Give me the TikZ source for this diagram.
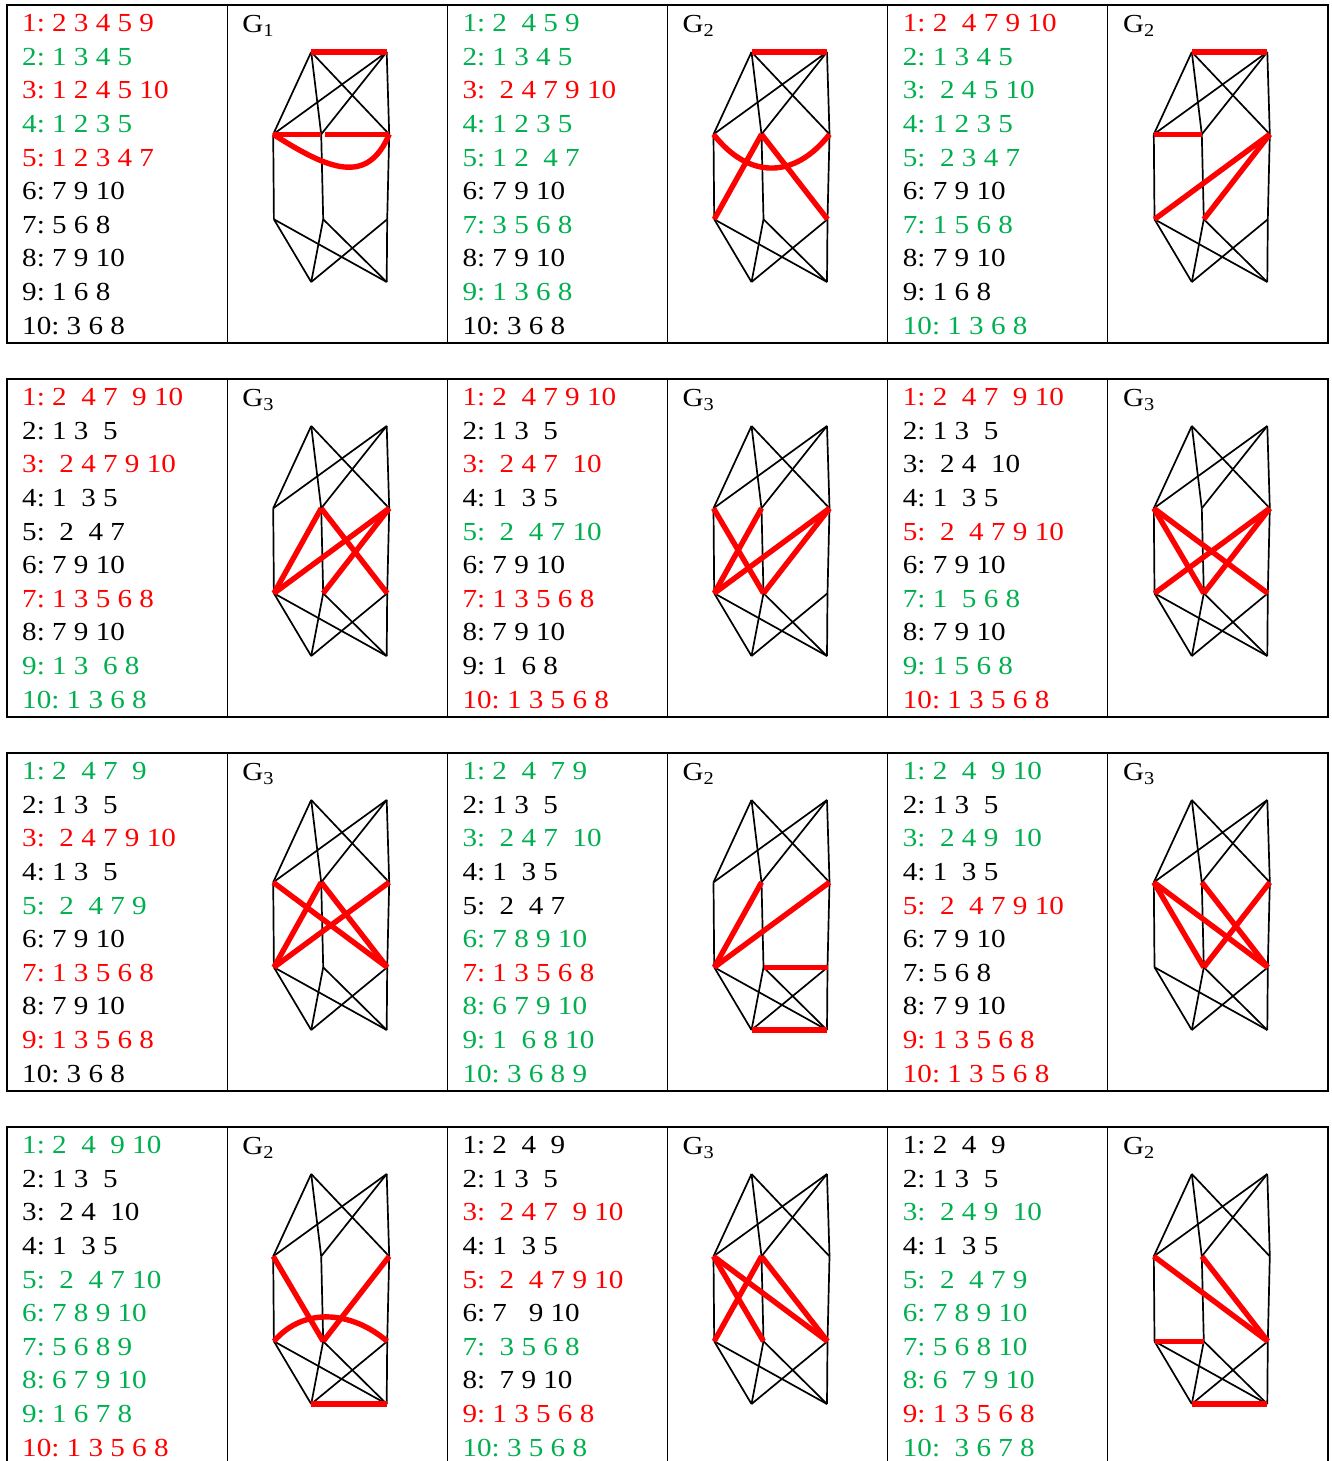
\documentclass[tikz,border=0pt]{standalone}
\usepackage{fontspec}
\newfontfamily\notefont{Liberation Serif}[FakeStretch=1.12]
\definecolor{lred}{RGB}{255,0,0}
\definecolor{lgreen}{RGB}{0,176,80}

% one column of adjacency lines: name, x, top of row, lines
\newcommand\adjlist[4]{%
  \foreach \tint/\words [count=\n] in {#4}
    \node[note,text=\tint] (#1-\n) at (#2,{#3+26.7+(\n-1)*33.6}) {\words};%
}
% the ten vertices and the black edges of one drawing
\newcommand\cellgraph[4]{%
  \begin{scope}[shift={(#2,#3)}]
    \coordinate (#1-tl) at (84,47);
    \coordinate (#1-tr) at (159.5,47);
    \coordinate (#1-ml) at (46,129.3);
    \coordinate (#1-mc) at (94,129.3);
    \coordinate (#1-mr) at (162,129.3);
    \coordinate (#1-ll) at (46.7,214.3);
    \coordinate (#1-lc) at (96,214.3);
    \coordinate (#1-lr) at (160,214.3);
    \coordinate (#1-bl) at (84,277);
    \coordinate (#1-br) at (159.5,277);
    \node[tag] (#1-tag) at (15,27.3) {G\textsubscript{#4}};
  \end{scope}
  \foreach \u/\v in {tl/ml,tl/mc,tl/mr,tr/ml,tr/mc,tr/mr,ml/ll,mc/lc,mr/lr,
                     ll/bl,ll/br,lc/bl,lc/br,lr/bl,lr/br}
    \draw[edge] (#1-\u) -- (#1-\v);%
}

\begin{document}
\begin{tikzpicture}[x=1pt,y=-1pt,
  rule/.style={line width=1.3pt},
  edge/.style={line width=1.7pt},
  hotedge/.style={draw=lred,line width=5.4pt},
  note/.style={anchor=base west,inner sep=0pt,font=\notefont\fontsize{26}{30}\selectfont},
  tag/.style={note}]
  \fill[white] (0,0) rectangle (1332,1461);
  \useasboundingbox (0,0) rectangle (1332,1461);

  % table rows
  \foreach \ry in {5,379,753,1127}{
    \draw[rule] (7,\ry) rectangle (1328,\ry+338);
    \foreach \cx in {227.2,447.3,667.5,887.7,1107.8}
      \draw[rule] (\cx,\ry) -- (\cx,\ry+338);
  }

  % adjacency lists
  \adjlist{t11}{22}{5}{lred/1:~2~3~4~5~9, lgreen/2:~1~3~4~5, lred/3:~1~2~4~5~10,
    lgreen/4:~1~2~3~5, lred/5:~1~2~3~4~7, black/6:~7~9~10, black/7:~5~6~8,
    black/8:~7~9~10, black/9:~1~6~8, black/10:~3~6~8}
  \adjlist{t12}{462.3}{5}{lgreen/1:~2~~4~5~9, lgreen/2:~1~3~4~5, lred/3:~~2~4~7~9~10,
    lgreen/4:~1~2~3~5, lgreen/5:~1~2~~4~7, black/6:~7~9~10, lgreen/7:~3~5~6~8,
    black/8:~7~9~10, lgreen/9:~1~3~6~8, black/10:~3~6~8}
  \adjlist{t13}{902.7}{5}{lred/1:~2~~4~7~9~10, lgreen/2:~1~3~4~5, lgreen/3:~~2~4~5~10,
    lgreen/4:~1~2~3~5, lgreen/5:~~2~3~4~7, black/6:~7~9~10, lgreen/7:~1~5~6~8,
    black/8:~7~9~10, black/9:~1~6~8, lgreen/10:~1~3~6~8}
  \adjlist{t21}{22}{379}{lred/1:~2~~4~7~~9~10, black/2:~1~3~~5, lred/3:~~2~4~7~9~10,
    black/4:~1~~3~5, black/5:~~2~~4~7, black/6:~7~9~10, lred/7:~1~3~5~6~8,
    black/8:~7~9~10, lgreen/9:~1~3~~6~8, lgreen/10:~1~3~6~8}
  \adjlist{t22}{462.3}{379}{lred/1:~2~~4~7~9~10, black/2:~1~3~~5, lred/3:~~2~4~7~~10,
    black/4:~1~~3~5, lgreen/5:~~2~~4~7~10, black/6:~7~9~10, lred/7:~1~3~5~6~8,
    black/8:~7~9~10, black/9:~1~~6~8, lred/10:~1~3~5~6~8}
  \adjlist{t23}{902.7}{379}{lred/1:~2~~4~7~~9~10, black/2:~1~3~~5, black/3:~~2~4~~10,
    black/4:~1~~3~5, lred/5:~~2~~4~7~9~10, black/6:~7~9~10, lgreen/7:~1~~5~6~8,
    black/8:~7~9~10, lgreen/9:~1~5~6~8, lred/10:~1~3~5~6~8}
  \adjlist{t31}{22}{753}{lgreen/1:~2~~4~7~~9, black/2:~1~3~~5, lred/3:~~2~4~7~9~10,
    black/4:~1~3~~5, lgreen/5:~~2~~4~7~9, black/6:~7~9~10, lred/7:~1~3~5~6~8,
    black/8:~7~9~10, lred/9:~1~3~5~6~8, black/10:~3~6~8}
  \adjlist{t32}{462.3}{753}{lgreen/1:~2~~4~~7~9, black/2:~1~3~~5, lgreen/3:~~2~4~7~~10,
    black/4:~1~~3~5, black/5:~~2~~4~7, lgreen/6:~7~8~9~10, lred/7:~1~3~5~6~8,
    lgreen/8:~6~7~9~10, lgreen/9:~1~~6~8~10, lgreen/10:~3~6~8~9}
  \adjlist{t33}{902.7}{753}{lgreen/1:~2~~4~~9~10, black/2:~1~3~~5, lgreen/3:~~2~4~9~~10,
    black/4:~1~~3~5, lred/5:~~2~~4~7~9~10, black/6:~7~9~10, black/7:~5~6~8,
    black/8:~7~9~10, lred/9:~1~3~5~6~8, lred/10:~1~3~5~6~8}
  \adjlist{t41}{22}{1127}{lgreen/1:~2~~4~~9~10, black/2:~1~3~~5, black/3:~~2~4~~10,
    black/4:~1~~3~5, lgreen/5:~~2~~4~7~10, lgreen/6:~7~8~9~10, lgreen/7:~5~6~8~9,
    lgreen/8:~6~7~9~10, lgreen/9:~1~6~7~8, lred/10:~1~3~5~6~8}
  \adjlist{t42}{462.3}{1127}{black/1:~2~~4~~9, black/2:~1~3~~5, lred/3:~~2~4~7~~9~10,
    black/4:~1~~3~5, lred/5:~~2~~4~7~9~10, black/6:~7~~~9~10, lgreen/7:~~3~5~6~8,
    black/8:~~7~9~10, lred/9:~1~3~5~6~8, lgreen/10:~3~5~6~8}
  \adjlist{t43}{902.7}{1127}{black/1:~2~~4~~9, black/2:~1~3~~5, lgreen/3:~~2~4~9~~10,
    black/4:~1~~3~5, lgreen/5:~~2~~4~7~9, lgreen/6:~7~8~9~10, lgreen/7:~5~6~8~10,
    lgreen/8:~6~~7~9~10, lred/9:~1~3~5~6~8, lgreen/10:~~3~6~7~8}

  % drawings
  \foreach \gn/\gx/\gy/\gi in {g11/227.2/5/1, g12/667.5/5/2, g13/1107.8/5/2,
      g21/227.2/379/3, g22/667.5/379/3, g23/1107.8/379/3,
      g31/227.2/753/3, g32/667.5/753/2, g33/1107.8/753/3,
      g41/227.2/1127/2, g42/667.5/1127/3, g43/1107.8/1127/2}
    \cellgraph{\gn}{\gx}{\gy}{\gi};

  % red edges
  \foreach \g/\u/\v in {g11/tl/tr, g11/ml/mc,
      g12/tl/tr, g12/mc/ll, g12/mc/lr,
      g13/tl/tr, g13/ml/mc, g13/mr/ll, g13/mr/lc,
      g21/mc/ll, g21/mr/ll, g21/mr/lc, g21/mc/lr,
      g22/ml/lc, g22/mc/ll, g22/mr/ll, g22/mr/lc,
      g23/ml/lc, g23/ml/lr, g23/mr/ll, g23/mr/lc,
      g31/ml/lr, g31/mr/ll, g31/mc/ll, g31/mc/lr,
      g32/mc/ll, g32/mr/ll, g32/lc/lr, g32/bl/br,
      g33/ml/lc, g33/ml/lr, g33/mc/lr, g33/mr/lc,
      g41/ml/lc, g41/mr/lc, g41/bl/br,
      g42/ml/lc, g42/mc/ll, g42/ml/lr, g42/mc/lr,
      g43/ml/lr, g43/mc/lr, g43/ll/lc, g43/bl/br}
    \draw[hotedge] (\g-\u) -- (\g-\v);
  \draw[hotedge,shorten <=4pt] (g11-mc) -- (g11-mr);
  \draw[hotedge] (g11-ml) .. controls +(55,35) and +(-22,52) .. (g11-mr);
  \draw[hotedge] (g12-ml) .. controls +(35,45) and +(-35,45) .. (g12-mr);
  \draw[hotedge] (g41-ll) .. controls +(30,-35) and +(-35,-30) .. (g41-lr);
\end{tikzpicture}
\end{document}
